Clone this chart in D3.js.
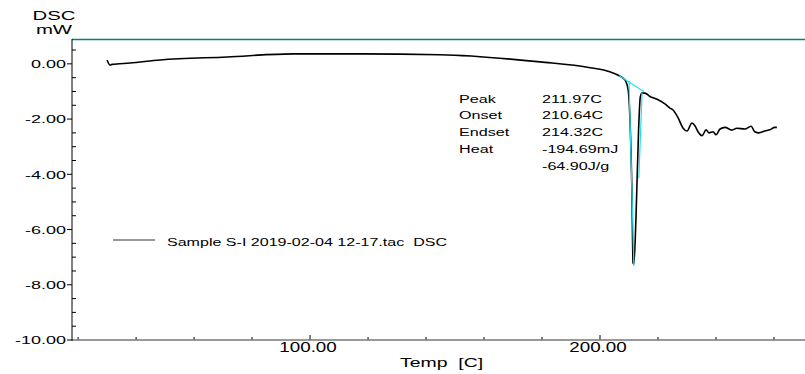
<!DOCTYPE html>
<html>
<head>
<meta charset="utf-8">
<script src="https://cdn.jsdelivr.net/npm/d3@7"></script>
<style>
  body { margin: 0; background: #fff; }
  text { font-family: "Liberation Sans", Arial, sans-serif; fill: #000; }
</style>
</head>
<body>
<div id="chart"></div>
<script>
// DSC trace
var temps = [30.0, 31.0, 31.7, 37.9, 48.3, 71.4, 94.1, 117.2, 144.8, 179.3, 196.6, 203.4, 206.9,
  208.6, 209.7, 210.4, 211.0, 211.4, 211.7, 212.4, 213.3, 213.9, 214.5, 215.5, 217.2, 219.7,
  222.4, 224.1, 225.2, 226.9, 228.6, 230.0, 231.7, 232.8, 233.8, 235.2, 236.6, 237.6, 239.0,
  240.0, 241.4, 243.1, 245.5, 247.2, 250.0, 252.1, 253.4, 254.8, 256.9, 258.6, 260.3, 261.0];
var dscValues = [0.14, -0.04, -0.02, 0.03, 0.14, 0.25, 0.36, 0.36, 0.33, 0.07, -0.14, -0.29, -0.45,
  -0.58, -0.94, -2.2, -4.6, -7.21, -7.25, -5.6, -2.4, -1.2, -1.06, -1.06, -1.18, -1.28,
  -1.45, -1.6, -1.67, -1.95, -2.32, -2.43, -2.14, -2.25, -2.46, -2.6, -2.39, -2.5, -2.46,
  -2.57, -2.36, -2.3, -2.4, -2.33, -2.36, -2.26, -2.46, -2.5, -2.43, -2.39, -2.3, -2.3];

// analysis construction lines (baseline, onset tangent, endset tangent)
var baseLine = [[206.6, -0.43], [215.2, -1.01]];
var onsetLine = [[210.0, -0.62], [211.7, -7.32]];
var endsetLine = [[214.5, -1.05], [213.4, -4.13]];

var yTicks = [0, -2, -4, -6, -8, -10];
var xTicks = [100, 200];
var annLabels = ["Peak", "Onset", "Endset", "Heat", ""];
var annValues = ["211.97C", "210.64C", "214.32C", "-194.69mJ", "-64.90J/g"];
var legendText = "Sample S-I 2019-02-04 12-17.tac  DSC";

var W = 805, H = 374;
var x = d3.scaleLinear().domain([17.9, 270.7]).range([72, 805]);
var y = d3.scaleLinear().domain([0.9, -10]).range([39, 340]);

var svg = d3.select("#chart").append("svg")
    .attr("width", W).attr("height", H);

// the instrument software draws its text stretched sideways
function wideText(parent, px, py, str, size, sx, anchor) {
  return parent.append("text")
      .attr("transform", "translate(" + px + "," + py + ") scale(" + sx + ",1)")
      .attr("text-anchor", anchor || "start")
      .attr("xml:space", "preserve")
      .style("font-size", size + "px")
      .text(str);
}

// minor ticks
var yMinor = d3.range(0.5, -10.01, -0.5).filter(function(v) { return yTicks.indexOf(v) < 0; });
svg.append("g").selectAll("line").data(yMinor).enter().append("line")
    .attr("x1", 72).attr("x2", 76)
    .attr("y1", function(d) { return y(d); }).attr("y2", function(d) { return y(d); })
    .attr("stroke", "#000").attr("stroke-width", 1);
svg.append("g").selectAll("line").data(yTicks).enter().append("line")
    .attr("x1", 67).attr("x2", 72)
    .attr("y1", function(d) { return y(d); }).attr("y2", function(d) { return y(d); })
    .attr("stroke", "#000").attr("stroke-width", 1);

var xMinor = d3.range(20, 271, 20).filter(function(v) { return xTicks.indexOf(v) < 0 && x(v) > 74; });
svg.append("g").selectAll("line").data(xMinor).enter().append("line")
    .attr("x1", function(d) { return x(d); }).attr("x2", function(d) { return x(d); })
    .attr("y1", 337).attr("y2", 340)
    .attr("stroke", "#000").attr("stroke-width", 1);
svg.append("g").selectAll("line").data(xTicks).enter().append("line")
    .attr("x1", function(d) { return x(d); }).attr("x2", function(d) { return x(d); })
    .attr("y1", 335).attr("y2", 340)
    .attr("stroke", "#000").attr("stroke-width", 1);

// frame
svg.append("line").attr("x1", 72).attr("x2", 805).attr("y1", 39.5).attr("y2", 39.5)
    .attr("stroke", "#008080").attr("stroke-width", 1.5);
svg.append("line").attr("x1", 72).attr("x2", 805).attr("y1", 340).attr("y2", 340)
    .attr("stroke", "#777").attr("stroke-width", 1.5);
svg.append("line").attr("x1", 72).attr("x2", 72).attr("y1", 39).attr("y2", 341)
    .attr("stroke", "#000").attr("stroke-width", 1);

// tick labels
var gy = svg.append("g");
yTicks.forEach(function(d) {
  wideText(gy, 66, y(d) + 4.3, d3.format(".2f")(d).replace("−", "-"), 11.6, 1.55, "end");
});
var gx = svg.append("g");
xTicks.forEach(function(d) {
  wideText(gx, x(d) - 2, 351.7, d3.format(".2f")(d), 13.8, 1.36, "middle");
});

// axis titles
wideText(svg, 54, 20, "DSC", 12, 1.7, "middle");
wideText(svg, 54, 33.5, "mW", 12, 1.7, "middle");
wideText(svg, 400, 366.7, "Temp  [C]", 12, 1.62, "start");

// curve
var pts = temps.map(function(t, i) { return [t, dscValues[i]]; });
var line = d3.line().x(function(d) { return x(d[0]); }).y(function(d) { return y(d[1]); })
    .curve(d3.curveMonotoneX);
svg.append("path").datum(pts).attr("d", line)
    .attr("fill", "none").attr("stroke", "#000").attr("stroke-width", 1.6);

// construction lines
var straight = d3.line().x(function(d) { return x(d[0]); }).y(function(d) { return y(d[1]); });
[baseLine, onsetLine, endsetLine].forEach(function(seg) {
  svg.append("path").datum(seg).attr("d", straight)
      .attr("fill", "none").attr("stroke", "#1ee3ee").attr("stroke-width", 1.2);
});

// annotation table
var ga = svg.append("g");
annLabels.forEach(function(d, i) {
  if (d) wideText(ga, 459, 102.7 + i * 16.7, d, 11, 1.47);
});
annValues.forEach(function(d, i) {
  wideText(ga, 542, 102.7 + i * 16.7, d, 11, 1.47);
});

// legend
svg.append("line").attr("x1", 113).attr("x2", 155).attr("y1", 240).attr("y2", 240)
    .attr("stroke", "#333").attr("stroke-width", 1.2);
wideText(svg, 167, 245.5, legendText, 11, 1.46);
</script>
</body>
</html>
